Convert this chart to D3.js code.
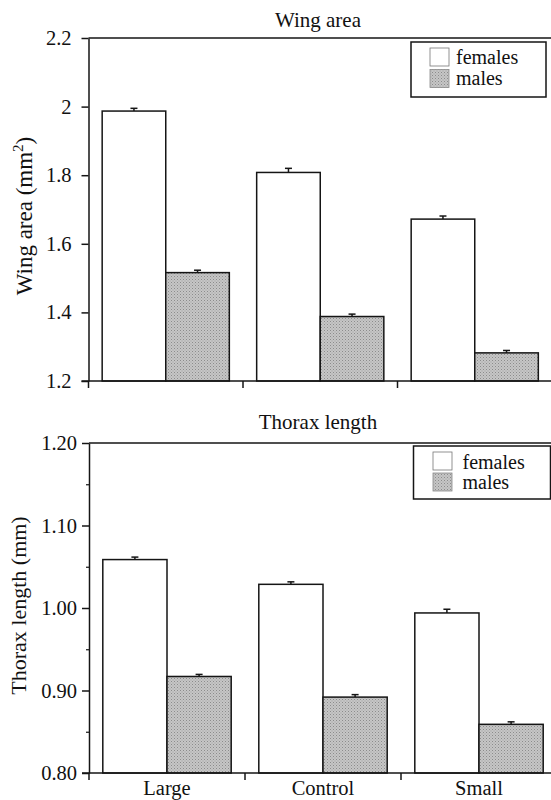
<!DOCTYPE html>
<html><head><meta charset="utf-8">
<script src="https://cdn.jsdelivr.net/npm/d3@7"></script>
<style>
body{margin:0;background:#fff;}
svg text{font-family:'Liberation Serif','DejaVu Serif','Times New Roman',Times,serif !important;fill:#111;}
</style></head>
<body>
<svg id="chart" width="551" height="800" font-family="Liberation Serif, serif"></svg>
<script>
const categories = ["Large", "Control", "Small"];
const series = ["females", "males"];

const wingFemales = [1.987, 1.808, 1.672];
const wingMales = [1.516, 1.388, 1.282];
const wingFemalesErr = [0.008, 0.012, 0.009];
const wingMalesErr = [0.007, 0.007, 0.007];
const wingTicks = [1.2, 1.4, 1.6, 1.8, 2, 2.2];
const wingTickLabels = ["1.2", "1.4", "1.6", "1.8", "2", "2.2"];

const thoraxFemales = [1.0587, 1.0287, 0.994];
const thoraxMales = [0.917, 0.892, 0.859];
const thoraxFemalesErr = [0.003, 0.003, 0.0045];
const thoraxMalesErr = [0.0025, 0.003, 0.003];
const thoraxTicks = [0.80, 0.90, 1.00, 1.10, 1.20];
const thoraxTickLabels = ["0.80", "0.90", "1.00", "1.10", "1.20"];
const thoraxMinorTicks = [0.85, 0.95, 1.05, 1.15];

const FONT = "Liberation Serif, DejaVu Serif, Times New Roman, serif";
const svg = d3.select("#chart");
const defs = svg.append("defs");
const pat = defs.append("pattern").attr("id", "stipple").attr("patternUnits", "userSpaceOnUse")
  .attr("width", 3).attr("height", 3);
pat.append("rect").attr("width", 3).attr("height", 3).attr("fill", "#c6c6c6");
pat.append("rect").attr("x", 0).attr("y", 0).attr("width", 1).attr("height", 1).attr("fill", "#8c8c8c");
pat.append("rect").attr("x", 1.5).attr("y", 1.5).attr("width", 1).attr("height", 1).attr("fill", "#a0a0a0");

const INK = "#151515";

function panel(cfg) {
  const g = svg.append("g").attr("font-family", FONT);
  const y = d3.scaleLinear().domain(cfg.domain).range([cfg.yBottom, cfg.yTop]);
  const x = d3.scaleBand().domain(categories).range([cfg.xLeft, cfg.xRight]).paddingInner(0).paddingOuter(0);
  const xs = d3.scaleBand().domain(series).range([0, x.bandwidth()]).paddingOuter(0.215).paddingInner(0);

  g.append("line").attr("x1", cfg.xLeft).attr("x2", 551).attr("y1", cfg.yTop).attr("y2", cfg.yTop)
    .attr("stroke", INK).attr("stroke-width", 1.5);

  const yAxis = d3.axisLeft(y).tickValues(cfg.ticks).tickSize(7).tickSizeOuter(0)
    .tickFormat((d, i) => cfg.tickLabels[i]);
  const ya = g.append("g").attr("transform", `translate(${cfg.xLeft},0)`).call(yAxis)
    .attr("font-family", FONT);
  ya.select(".domain").attr("stroke", INK).attr("stroke-width", 1.5);
  ya.selectAll(".tick line").attr("stroke", INK).attr("stroke-width", 1.5);
  ya.selectAll(".tick text").attr("font-size", 20.5).attr("x", -cfg.labelGap)
    .attr("font-family", FONT).attr("fill", INK);

  if (cfg.minor) {
    const ym = d3.axisLeft(y).tickValues(cfg.minor).tickSize(3).tickSizeOuter(0).tickFormat("");
    const ymg = g.append("g").attr("transform", `translate(${cfg.xLeft},0)`).call(ym);
    ymg.select(".domain").remove();
    ymg.selectAll(".tick line").attr("stroke", INK).attr("stroke-width", 1.2);
  }

  const data = [];
  categories.forEach((c, i) => {
    data.push({c, s: "females", v: cfg.females[i], e: cfg.femalesErr[i]});
    data.push({c, s: "males", v: cfg.males[i], e: cfg.malesErr[i]});
  });
  const bars = g.append("g");
  bars.selectAll("rect").data(data).join("rect")
    .attr("x", d => x(d.c) + xs(d.s))
    .attr("width", xs.bandwidth())
    .attr("y", d => y(d.v))
    .attr("height", d => y(cfg.domain[0]) - y(d.v))
    .attr("fill", d => d.s === "males" ? "url(#stipple)" : "#fff")
    .attr("stroke", INK).attr("stroke-width", 1.5);

  const eb = g.append("g").attr("stroke", INK).attr("stroke-width", 1.5);
  data.forEach(d => {
    const cx = x(d.c) + xs(d.s) + xs.bandwidth() / 2;
    eb.append("line").attr("x1", cx).attr("x2", cx).attr("y1", y(d.v)).attr("y2", y(d.v + d.e));
    eb.append("line").attr("x1", cx - 3.5).attr("x2", cx + 3.5).attr("y1", y(d.v + d.e)).attr("y2", y(d.v + d.e));
  });

  g.append("line").attr("x1", cfg.xLeft - 7).attr("x2", 551).attr("y1", cfg.yBottom).attr("y2", cfg.yBottom)
    .attr("stroke", INK).attr("stroke-width", 1.5);
  const bounds = categories.map(c => x(c));
  g.selectAll(".sep").data(bounds).join("line").attr("class", "sep")
    .attr("x1", d => d).attr("x2", d => d).attr("y1", cfg.yBottom).attr("y2", cfg.yBottom + 7)
    .attr("stroke", INK).attr("stroke-width", 1.5);

  if (cfg.xLabels) {
    g.selectAll(".xl").data(categories).join("text").attr("class", "xl")
      .attr("x", d => x(d) + x.bandwidth() / 2).attr("y", cfg.yBottom + 22)
      .attr("text-anchor", "middle").attr("font-size", 20.5).text(d => d);
  }

  g.append("text").attr("x", 318).attr("y", cfg.titleY).attr("text-anchor", "middle")
    .attr("font-size", 21).text(cfg.title);

  const yl = g.append("text").attr("transform", `translate(${cfg.ylabelX},${cfg.ylabelY}) rotate(-90)`)
    .attr("text-anchor", "middle").attr("font-size", cfg.ylabelSize);
  cfg.ylabel(yl);

  const L = cfg.legend;
  g.append("rect").attr("x", L.x).attr("y", L.y).attr("width", L.w).attr("height", L.h)
    .attr("fill", "#fff").attr("stroke", INK).attr("stroke-width", 1.5);
  series.forEach((s, i) => {
    g.append("rect").attr("x", L.sx).attr("y", L.sy[i]).attr("width", 19).attr("height", 18)
      .attr("fill", s === "males" ? "url(#stipple)" : "#fff").attr("stroke", s === "males" ? "#888" : "#777").attr("stroke-width", 0.8);
    g.append("text").attr("x", L.tx).attr("y", L.ty[i]).attr("font-size", 20).text(s);
  });
}

panel({
  domain: [1.2, 2.2], yTop: 38, yBottom: 381, xLeft: 88.5, xRight: 552,
  ticks: wingTicks, tickLabels: wingTickLabels, labelGap: 17,
  females: wingFemales, males: wingMales, femalesErr: wingFemalesErr, malesErr: wingMalesErr,
  xLabels: false, title: "Wing area", titleY: 27,
  ylabelX: 32, ylabelY: 216, ylabelSize: 23,
  ylabel: t => {
    t.append("tspan").text("Wing area (mm");
    t.append("tspan").attr("font-size", 15).attr("dy", -9).text("2");
    t.append("tspan").attr("dy", 9).text(")");
  },
  legend: {x: 411, y: 42, w: 135, h: 55, sx: 430, sy: [48, 69.5], tx: 456, ty: [63.5, 84.5]}
});

panel({
  domain: [0.8, 1.2], yTop: 443, yBottom: 773, xLeft: 89, xRight: 557,
  ticks: thoraxTicks, tickLabels: thoraxTickLabels, labelGap: 12, minor: thoraxMinorTicks,
  females: thoraxFemales, males: thoraxMales, femalesErr: thoraxFemalesErr, malesErr: thoraxMalesErr,
  xLabels: true, title: "Thorax length", titleY: 429,
  ylabelX: 25.5, ylabelY: 605.5, ylabelSize: 22,
  ylabel: t => { t.text("Thorax length (mm)"); },
  legend: {x: 413.5, y: 446, w: 137, h: 53, sx: 433, sy: [452, 473], tx: 462.5, ty: [468.5, 488.5]}
});
</script>
</body></html>
